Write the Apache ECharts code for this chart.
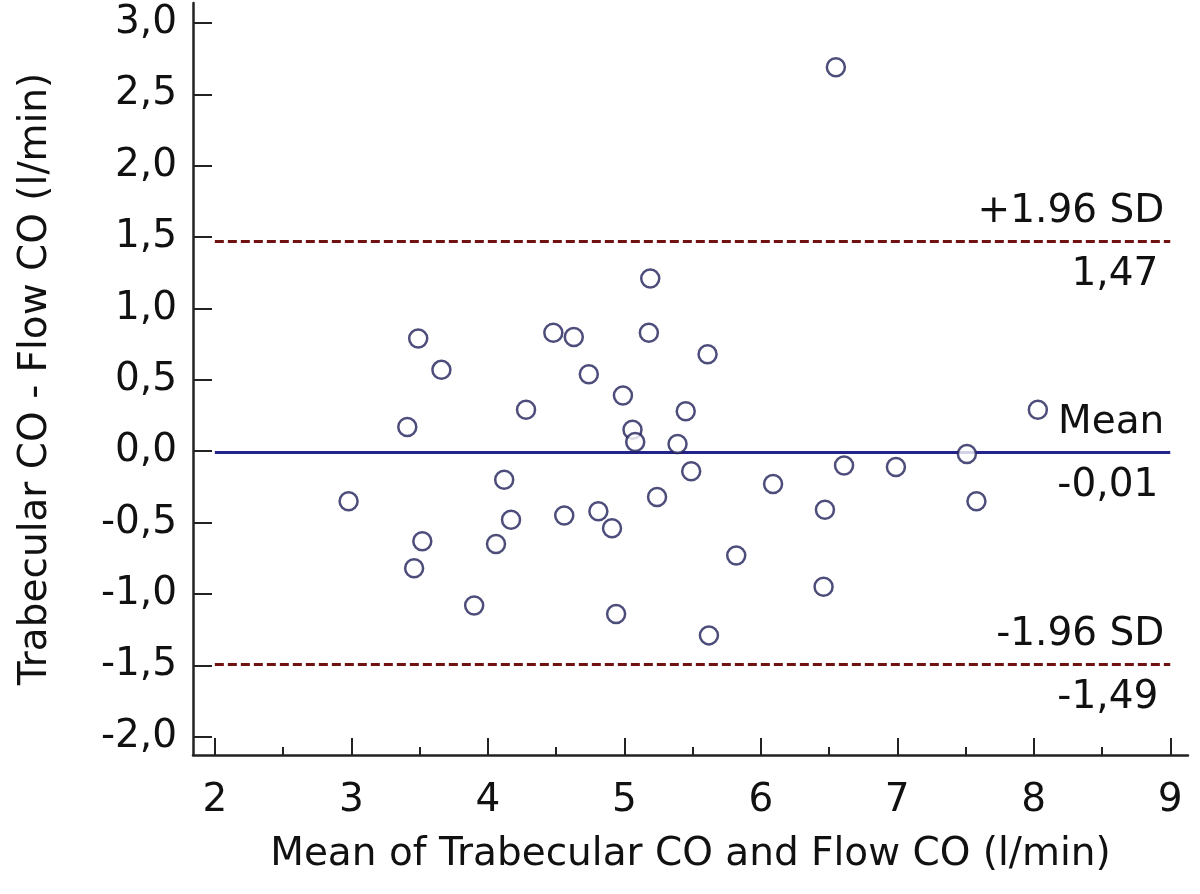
<!DOCTYPE html>
<html>
<head>
<meta charset="utf-8">
<script src="https://cdn.jsdelivr.net/npm/echarts@6/dist/echarts.min.js"></script>
<style>html,body{margin:0;padding:0;background:#fff}#c{width:1200px;height:894px}</style>
</head>
<body>
<div id="c"></div>
<script>
// Mean of Trabecular CO and Flow CO (l/min)
const meanValues = [6.55,2.98,3.49,3.66,3.41,3.52,3.46,3.90,4.12,4.17,4.06,4.28,4.48,4.63,4.74,4.56,4.81,4.91,4.99,5.06,5.08,4.94,5.19,5.18,5.24,5.39,5.45,5.49,5.61,5.62,5.82,6.09,6.47,6.46,6.61,6.99,7.51,7.58,8.03];
// Trabecular CO - Flow CO (l/min)
const diffValues = [2.69,-0.35,0.79,0.57,0.17,-0.63,-0.82,-1.08,-0.20,-0.48,-0.65,0.29,0.83,0.80,0.54,-0.45,-0.42,-0.54,0.39,0.15,0.065,-1.14,1.21,0.83,-0.32,0.05,0.28,-0.14,0.68,-1.29,-0.73,-0.23,-0.41,-0.95,-0.10,-0.11,-0.02,-0.35,0.29];
const refNames = ['+1.96 SD','Mean','-1.96 SD'];
const refValues = [1.47,-0.01,-1.49];
const refLabels = ['1,47','-0,01','-1,49'];
const refRange = [2, 9];
const xTickValues = [2,3,4,5,6,7,8,9];
const xTickLabels = ['2','3','4','5','6','7','8','9'];
const xMinorTicks = [2.5,3.5,4.5,5.5,6.5,7.5,8.5];
const yTickValues = [-2,-1.5,-1,-0.5,0,0.5,1,1.5,2,2.5,3];
const yTickLabels = ['-2,0','-1,5','-1,0','-0,5','0,0','0,5','1,0','1,5','2,0','2,5','3,0'];

const FONT = 'DejaVu Sans';
const FS = 39;
const TXT = '#111';
const AX = '#222';
const points = meanValues.map((x,i)=>[x, diffValues[i]]);

const refColors = ['#701212','#23238c','#701212'];
const refTypes = [[9,4],'solid',[9,4]];
const markData = [];
refValues.forEach((v,i)=>{
  markData.push([
    {coord:[refRange[0], v], lineStyle:{color:refColors[i], type:refTypes[i], width:3.2},
     label:{show:true, position:'insideEndTop', formatter:refNames[i], distance:[6,10],
            fontFamily:FONT, fontSize:FS, color:TXT}},
    {coord:[refRange[1], v]}
  ]);
  markData.push([
    {coord:[refRange[0], v], lineStyle:{color:'rgba(0,0,0,0)', width:0.1, type:'solid'},
     label:{show:true, position:'insideEndBottom', formatter:refLabels[i], distance:[12,14],
            fontFamily:FONT, fontSize:FS, color:TXT}},
    {coord:[refRange[1], v]}
  ]);
});

const chart = echarts.init(document.getElementById('c'));
chart.setOption({
  animation:false,
  backgroundColor:'#fff',
  grid:{left:193, right:12, top:3, bottom:139, containLabel:false},
  xAxis:[{
    type:'value', min:1.84, max:9.13,
    name:'Mean of Trabecular CO and Flow CO (l/min)',
    nameLocation:'middle', nameGap:80,
    nameTextStyle:{fontFamily:FONT, fontSize:FS, color:TXT},
    axisLine:{show:true, onZero:false, lineStyle:{color:AX, width:2.5}},
    axisTick:{show:true, inside:true, length:17, lineStyle:{color:AX, width:2}, customValues:xTickValues},
    axisLabel:{show:true, fontFamily:FONT, fontSize:FS, color:TXT, margin:26,
      customValues:xTickValues, formatter:(v)=>xTickLabels[xTickValues.indexOf(v)]},
    splitLine:{show:false}
  },{
    type:'value', min:1.84, max:9.13, position:'bottom',
    axisLine:{show:false, onZero:false},
    axisTick:{show:true, inside:true, length:8, lineStyle:{color:AX, width:2}, customValues:xMinorTicks},
    axisLabel:{show:false}, splitLine:{show:false}
  }],
  yAxis:{
    type:'value', min:-2.128, max:3.14,
    name:'Trabecular CO - Flow CO (l/min)',
    nameLocation:'middle', nameGap:138,
    nameTextStyle:{fontFamily:FONT, fontSize:FS, color:TXT},
    axisLine:{show:true, onZero:false, lineStyle:{color:AX, width:2.5}},
    axisTick:{show:true, inside:true, length:19, lineStyle:{color:AX, width:2}, customValues:yTickValues},
    axisLabel:{show:true, fontFamily:FONT, fontSize:FS, color:TXT, margin:16,
      customValues:yTickValues, formatter:(v)=>yTickLabels[yTickValues.indexOf(v)]},
    splitLine:{show:false}
  },
  series:[{
    type:'scatter', xAxisIndex:0, data:points,
    symbol:'circle', symbolSize:18,
    itemStyle:{color:'#fff', borderColor:'#20205a', borderWidth:2.5},
    z:3,
    markLine:{
      silent:true, symbol:['none','none'],
      data:markData, z:2
    }
  }]
});
</script>
</body>
</html>
